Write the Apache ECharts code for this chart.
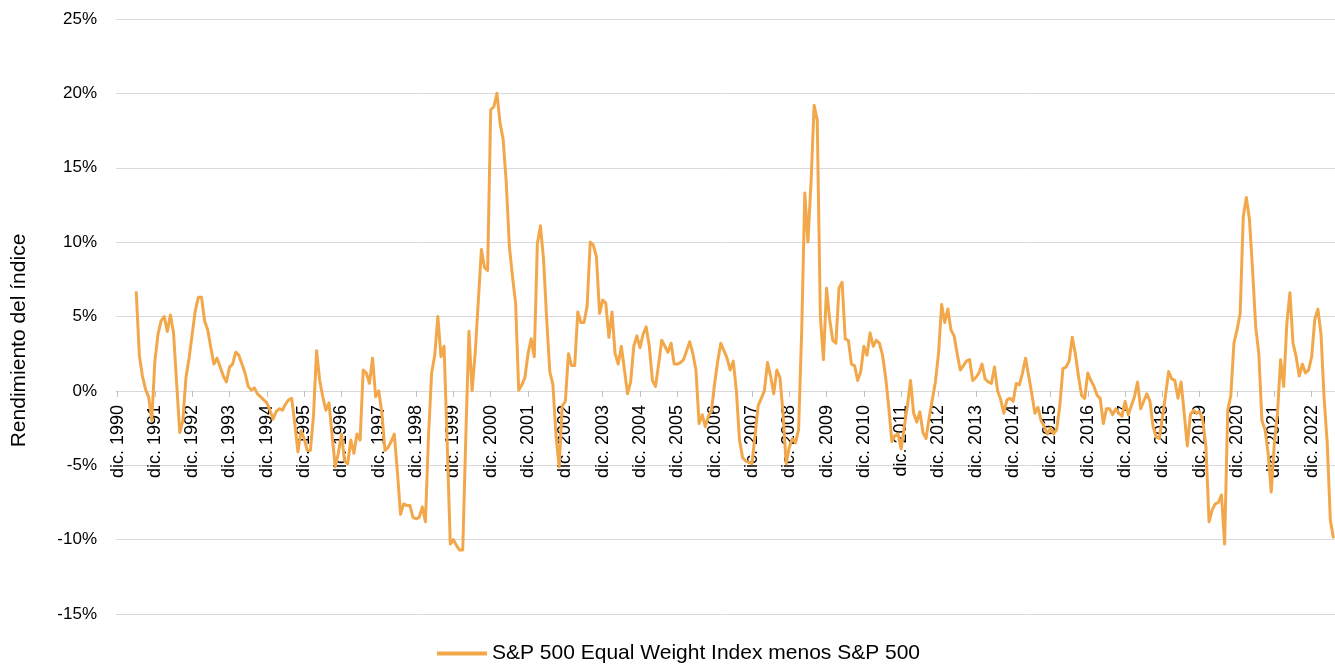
<!DOCTYPE html>
<html>
<head>
<meta charset="utf-8">
<title>S&amp;P 500 Equal Weight Index menos S&amp;P 500</title>
<script src="https://cdn.jsdelivr.net/npm/echarts@6/dist/echarts.min.js"></script>
<style>
    html, body { margin: 0; padding: 0; background: #fff; }
    #relChart { width: 1335px; height: 664px; }
</style>
</head>
<body>
<div id="relChart"></div>
<script>
// months shown on the axis, Spanish abbreviations
var monthNames = ['ene.', 'feb.', 'mar.', 'abr.', 'may.', 'jun.', 'jul.', 'ago.', 'sept.', 'oct.', 'nov.', 'dic.'];
var startYear = 1990;   // series starts dic. 1990
var endYear = 2023;     // ... and ends jul. 2023
var endMonth = 7;

var yTicks = { min: -15, max: 25, step: 5 };

// dic. 1990 - dic. 1999 (value in %)
var rel1990s = [
    null,
    null, null, null, null, null, 6.7, 2.4, 1.0, 0.1, -0.4, -2.0, 2.0,
    3.8, 4.7, 5.0, 4.0, 5.1, 3.9, 0.5, -2.8, -2.0, 0.9, 2.2, 3.8,
    5.4, 6.3, 6.3, 4.7, 4.1, 2.9, 1.8, 2.2, 1.6, 1.0, 0.6, 1.6,
    1.8, 2.6, 2.4, 1.8, 1.2, 0.3, 0.05, 0.2, -0.2, -0.4, -0.6, -0.8,
    -1.3, -1.9, -1.4, -1.2, -1.3, -0.9, -0.6, -0.5, -2.2, -4.1, -2.7, -3.2,
    -4.0, -4.0, -1.7, 2.7, 0.7, -0.4, -1.3, -0.8, -3.0, -5.1, -4.2, -2.9,
    -4.7, -4.9, -3.3, -4.2, -2.9, -3.3, 1.4, 1.2, 0.5, 2.2, -0.4, 0.0,
    -1.5, -4.0, -3.8, -3.4, -2.9, -5.5, -8.3, -7.6, -7.7, -7.7, -8.5, -8.6,
    -8.5, -7.8, -8.8, -3.0, 1.2, 2.4, 5.0, 2.3, 3.0, -3.5, -10.3, -10.0
];

// ene. 2000 - dic. 2009
var rel2000s = [
    -10.4, -10.7, -10.7, -3.0, 4.0, 0.0, 2.5, 6.0, 9.5, 8.3, 8.1, 18.9,
    19.1, 20.0, 18.0, 16.9, 14.0, 9.7, 7.7, 5.9, 0.05, 0.4, 0.9, 2.5,
    3.5, 2.3, 9.9, 11.1, 8.8, 4.8, 1.3, 0.4, -3.0, -5.1, -1.0, -0.7,
    2.5, 1.7, 1.7, 5.3, 4.6, 4.6, 5.7, 10.0, 9.8, 9.0, 5.2, 6.1,
    5.9, 3.6, 5.3, 2.5, 1.8, 3.0, 1.4, -0.2, 0.6, 3.0, 3.7, 2.9,
    3.8, 4.3, 3.0, 0.7, 0.3, 1.8, 3.4, 3.0, 2.6, 3.2, 1.8, 1.8,
    1.9, 2.1, 2.7, 3.3, 2.5, 1.4, -2.2, -1.6, -2.4, -1.7, -1.3, 0.5,
    2.0, 3.2, 2.7, 2.2, 1.4, 2.0, 0.0, -3.3, -4.5, -4.7, -4.8, -4.9,
    -3.0, -1.0, -0.5, 0.0, 1.9, 1.0, -0.2, 1.4, 0.9, -1.5, -4.9, -3.8,
    -3.2, -3.5, -2.6, 4.0, 13.3, 10.0, 14.0, 19.2, 18.2, 5.0, 2.1, 6.9
];

// ene. 2010 - dic. 2019
var rel2010s = [
    4.8, 3.4, 3.2, 6.9, 7.3, 3.5, 3.4, 1.8, 1.7, 0.7, 1.3, 3.0,
    2.4, 3.9, 3.0, 3.4, 3.2, 2.4, 0.9, -1.1, -3.4, -3.0, -2.9, -3.9,
    -2.4, -1.0, 0.7, -1.5, -2.1, -1.4, -2.8, -3.2, -1.8, -0.6, 0.6, 2.5,
    5.8, 4.6, 5.5, 4.1, 3.7, 2.5, 1.4, 1.7, 2.0, 2.1, 0.7, 0.9,
    1.2, 1.8, 0.8, 0.6, 0.5, 1.6, 0.0, -0.6, -1.5, -0.6, -0.5, -0.7,
    0.5, 0.4, 1.2, 2.2, 1.0, -0.2, -1.5, -1.1, -2.0, -2.4, -2.9, -2.5,
    -2.9, -2.6, -1.0, 1.5, 1.6, 2.0, 3.6, 2.5, 1.0, -0.3, -0.5, 1.2,
    0.7, 0.3, -0.3, -0.5, -2.2, -1.2, -1.2, -1.6, -1.2, -1.5, -1.7, -0.7,
    -1.6, -1.0, -0.4, 0.6, -1.2, -0.7, -0.2, -0.7, -2.4, -3.1, -3.2, -1.8,
    -0.3, 1.3, 0.8, 0.7, -0.5, 0.6, -1.5, -3.7, -1.6, -1.3, -1.5, -1.4
];

// ene. 2020 - jul. 2023
var rel2020s = [
    -2.0, -3.8, -8.8, -8.0, -7.6, -7.5, -7.0, -10.3, -1.3, -0.3, 3.2, 4.1,
    5.2, 11.7, 13.0, 11.5, 8.1, 4.3, 2.5, -2.0, -2.6, -4.2, -6.8, -3.5,
    -1.5, 2.1, 0.3, 4.5, 6.6, 3.2, 2.3, 1.0, 1.8, 1.2, 1.4, 2.3,
    4.8, 5.5, 3.8, -0.5, -3.5, -8.7, -9.9
];

var seriesName = 'S&P 500 Equal Weight Index menos S&P 500';
var fontName = '"Liberation Sans", Arial, Helvetica, sans-serif';

function buildMonths() {
    let cats = [monthNames[11] + ' ' + startYear];
    for (let y = startYear + 1; y <= endYear; y++) {
        let last = (y == endYear) ? endMonth : 12;
        for (let m = 0; m < last; m++) {
            cats.push(monthNames[m] + ' ' + y);
        }
    }
    return cats;
}

function getOption(xData, yData) {
    let gridTop = 19, gridBottom = 50;
    let plotHeight = 664 - gridTop - gridBottom;
    // the category axis sits on the 0% line, not at the bottom of the grid
    let zeroLift = plotHeight * (0 - yTicks.min) / (yTicks.max - yTicks.min);

    let option = {
        animation: false,
        textStyle: { fontFamily: fontName },
        grid: {
            left: 116,
            right: 0,
            top: gridTop,
            bottom: gridBottom,
            outerBoundsMode: 'none'
        },
        legend: {
            data: [seriesName],
            left: 432,
            top: 638,
            icon: 'rect',
            itemWidth: 50,
            itemHeight: 4,
            itemGap: 10,
            textStyle: { fontFamily: fontName, fontSize: 21, color: '#000' }
        },
        xAxis: {
            type: 'category',
            data: xData,
            boundaryGap: true,
            offset: -zeroLift,
            axisLine: { onZero: false, lineStyle: { color: '#d9d9d9', width: 1 } },
            axisTick: { show: true, interval: 11, alignWithLabel: true, length: 6, lineStyle: { color: '#bfbfbf' } },
            axisLabel: {
                interval: 11,
                rotate: 90,
                margin: 14,
                fontSize: 18,
                color: '#000',
                fontFamily: fontName
            },
            splitLine: { show: false }
        },
        yAxis: {
            type: 'value',
            min: yTicks.min,
            max: yTicks.max,
            interval: yTicks.step,
            name: 'Rendimiento del índice',
            nameLocation: 'middle',
            nameGap: 86,
            nameRotate: 90,
            nameTextStyle: {
                fontSize: 21,
                color: '#000',
                fontFamily: fontName,
                padding: [0, 48, 0, 0]   // pushes the title a bit lower, as in the original
            },
            axisLine: { show: false },
            axisTick: { show: false },
            axisLabel: {
                formatter: '{value}%',
                fontSize: 17,
                margin: 19,
                color: '#000',
                fontFamily: fontName
            },
            splitLine: { lineStyle: { color: '#d9d9d9', width: 1 } }
        },
        series: [{
            name: seriesName,
            type: 'line',
            data: yData,
            showSymbol: false,
            symbol: 'none',
            color: '#f2a84a',
            lineStyle: { width: 3, color: '#f2a84a', join: 'round' }
        }]
    };
    return option;
}

var relChart = echarts.init(document.getElementById('relChart'));
var months = buildMonths();
var relValues = rel1990s.concat(rel2000s, rel2010s, rel2020s);
relChart.setOption(getOption(months, relValues));
</script>
</body>
</html>
